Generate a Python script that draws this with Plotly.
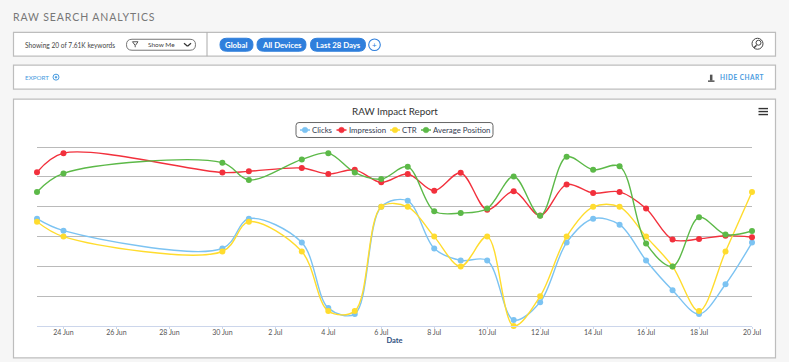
import plotly.graph_objects as go

dates = ["2018-06-23","2018-06-24","2018-06-30","2018-07-01","2018-07-03","2018-07-04","2018-07-05",
         "2018-07-06","2018-07-07","2018-07-08","2018-07-09","2018-07-10","2018-07-11","2018-07-12",
         "2018-07-13","2018-07-14","2018-07-15","2018-07-16","2018-07-17","2018-07-18","2018-07-19","2018-07-20"]
clicks = [3.6,3.2,2.6,3.6,2.8,0.6,0.4,4.0,4.2,2.6,2.2,2.2,0.2,0.8,2.8,3.6,3.4,2.2,1.2,0.4,1.4,2.8]
impression = [5.16,5.8,5.15,5.19,5.3,5.1,5.24,4.82,5.1,4.54,5.14,3.9,4.52,3.71,4.75,4.46,4.5,3.94,2.9,2.92,3.03,2.98]
ctr = [3.5,3.0,2.5,3.5,2.5,0.5,0.5,4.0,4.0,3.0,2.0,3.0,0.0,1.0,3.0,4.0,4.0,3.0,2.0,0.5,2.5,4.5]
avg_pos = [4.5,5.12,5.48,4.9,5.59,5.8,5.15,4.93,5.34,3.85,3.79,3.94,5.02,3.7,5.68,5.24,5.36,2.77,2.0,3.65,3.07,3.19]
tick_vals = ["2018-06-24","2018-06-26","2018-06-28","2018-06-30","2018-07-02","2018-07-04","2018-07-06",
             "2018-07-08","2018-07-10","2018-07-12","2018-07-14","2018-07-16","2018-07-18","2018-07-20"]
tick_text = ["24 Jun","26 Jun","28 Jun","30 Jun","2 Jul","4 Jul","6 Jul","8 Jul","10 Jul","12 Jul","14 Jul","16 Jul","18 Jul","20 Jul"]

W, H = 789, 362
L, R = 37, 752
UNIT = 29.88          # px per y unit
B = 326
Y_TOP = 6.04
T = B - Y_TOP * UNIT
FONT = "Lato"

def px(x): return (x - L) / (R - L)
def py(y): return (B - y) / (B - T)

series = [("Clicks", clicks, "#7cc3f2"), ("Impression", impression, "#f2303c"),
          ("CTR", ctr, "#ffdc2e"), ("Average Position", avg_pos, "#5cb948")]

fig = go.Figure()
for name, vals, col in series:
    fig.add_trace(go.Scatter(x=dates, y=vals, name=name, mode="lines+markers", cliponaxis=False,
                             line=dict(color=col, width=1.4, shape="spline", smoothing=0.95),
                             marker=dict(color=col, size=6)))

shapes, ann = [], []

def rect(x0, y0, x1, y1, fill="white", line="#bdbdbd", w=1.2):
    shapes.append(dict(type="rect", xref="paper", yref="paper", x0=px(x0), x1=px(x1), y0=py(y0), y1=py(y1),
                       fillcolor=fill, line=dict(color=line, width=w), layer="below"))

def rrect(x0, y0, x1, y1, r, fill="white", line="#666", w=1, layer="below"):
    def P(x, y): return f"{px(x):.5f},{py(y):.5f}"
    d = (f"M{P(x0+r,y0)} L{P(x1-r,y0)} Q{P(x1,y0)} {P(x1,y0+r)} L{P(x1,y1-r)} Q{P(x1,y1)} {P(x1-r,y1)} "
         f"L{P(x0+r,y1)} Q{P(x0,y1)} {P(x0,y1-r)} L{P(x0,y0+r)} Q{P(x0,y0)} {P(x0+r,y0)} Z")
    shapes.append(dict(type="path", xref="paper", yref="paper", path=d, fillcolor=fill,
                       line=dict(color=line, width=w), layer=layer))

def seg(x0, y0, x1, y1, col="#444", w=1.5):
    shapes.append(dict(type="line", xref="paper", yref="paper", x0=px(x0), x1=px(x1), y0=py(y0), y1=py(y1),
                       line=dict(color=col, width=w)))

def circ(cx, cy, r, fill="rgba(0,0,0,0)", line="#444", w=1):
    shapes.append(dict(type="circle", xref="paper", yref="paper", x0=px(cx-r), x1=px(cx+r), y0=py(cy-r), y1=py(cy+r),
                       fillcolor=fill, line=dict(color=line, width=w)))

def text(x, y, s, size=8, col="#444", anchor="left", fam=FONT):
    ann.append(dict(xref="paper", yref="paper", x=px(x), y=py(y), text=s, showarrow=False, xanchor=anchor,
                    yanchor="middle", font=dict(size=size, color=col, family=fam), borderpad=0, borderwidth=0))

# page boxes
rect(13.5, 31.5, 775.5, 55.5)
rect(13.5, 64.5, 775.5, 88.5)
rect(13.5, 98.5, 775.5, 358)
seg(207, 31.5, 207, 55.5, "#aaa", 1)

text(12.5, 16, "<span style='letter-spacing:0.9px'>RAW SEARCH ANALYTICS</span>", 10.5, "#777")
text(25, 44, "Showing 20 of 7.61K keywords", 6.6, "#444")
rrect(126.5, 38.5, 195.5, 49.5, 5.5, line="#777")
text(148, 43.5, "Show Me", 6.5, "#444")
seg(184, 42.5, 187.5, 45.5, "#333", 1.3); seg(187.5, 45.5, 191, 42.5, "#333", 1.3)
seg(132.5, 41, 138, 41, "#555", 1); seg(132.5, 41, 135, 44.5, "#555", 1); seg(138, 41, 135.5, 44.5, "#555", 1); seg(135.2, 44.5, 135.2, 46.5, "#555", 1)

for x0, x1, s in [(220, 253, "Global"), (257, 306, "All Devices"), (310.5, 365.5, "Last 28 Days")]:
    rrect(x0, 37.5, x1, 50.5, 6.5, fill="#2f7fdc", line="#2f7fdc")
    text((x0 + x1) / 2, 44, "<b>%s</b>" % s, 7.8, "white", "center")
circ(374.5, 44, 5.8, fill="white", line="#2f7fdc", w=1.1)
text(374.5, 44, "+", 8, "#2f7fdc", "center")

circ(757.5, 43, 5.5, line="#444", w=1)
circ(758.5, 42, 2.5, line="#444", w=1)
seg(756.5, 44.5, 754, 47, "#444", 1.5)

text(25, 76.5, "EXPORT", 6.3, "#4a9ce0")
circ(56, 76.5, 3, line="#4a9ce0", w=1)
circ(56, 76.5, 1, fill="#4a9ce0", line="#4a9ce0", w=0.5)

text(719.5, 76.5, "<span style='letter-spacing:0.5px'><b>HIDE CHART</b></span>", 6.5, "#4a9ce0")
seg(708, 80.5, 714.5, 80.5, "#555", 1.5); seg(711.2, 74, 711.2, 80, "#555", 2.5)

for y in (108, 111, 114):
    seg(758.5, y, 768, y, "#333", 1.4)

# legend: frame, key swatches and labels
rrect(296, 122, 493, 137, 3, line="#666", w=1)
legend_slots = [(305, 312), (341.5, 349), (395, 402), (426, 433)]
for (name, _, col), (cx, tx) in zip(series, legend_slots):
    seg(cx - 5, 129.5, cx + 5, 129.5, col, 1.5)
    circ(cx, 129.5, 2.8, fill=col, line=col, w=0.5)
    text(tx, 129.5, name, 7.8, "#333b50")

fig.update_layout(
    width=W, height=H, autosize=False,
    margin=dict(l=L, r=W - R, t=T, b=H - B),
    paper_bgcolor="#f6f6f6", plot_bgcolor="rgba(0,0,0,0)",
    font=dict(family=FONT, size=8, color="#444"),
    title=dict(text="RAW Impact Report", x=395 / W, xanchor="center",
               y=1 - 111.5 / H, yanchor="middle", font=dict(size=9.8, color="#333", family=FONT)),
    showlegend=False,
    shapes=shapes, annotations=ann,
    xaxis=dict(type="date", range=[dates[0], dates[-1]], tickmode="array", tickvals=tick_vals, ticktext=tick_text,
               showgrid=False, showline=True, linecolor="#ccd6eb", linewidth=1, ticks="outside", ticklen=2,
               tickcolor="#ccd6eb", tickfont=dict(size=7, color="#555", family=FONT), zeroline=False,
               ticklabelstandoff=-2,
               title=dict(text="<b>Date</b>", font=dict(size=7.5, color="#2f4f7f", family=FONT), standoff=1)),
    yaxis=dict(range=[0, Y_TOP], tick0=0, dtick=1, showticklabels=False, showgrid=True, gridcolor="#bababa", gridwidth=1.3,
               zeroline=False, showline=False, fixedrange=True),
)
fig.write_html("out.html", config=dict(displayModeBar=False),
               post_script="document.body.style.margin='0';document.body.style.overflow='hidden';")
